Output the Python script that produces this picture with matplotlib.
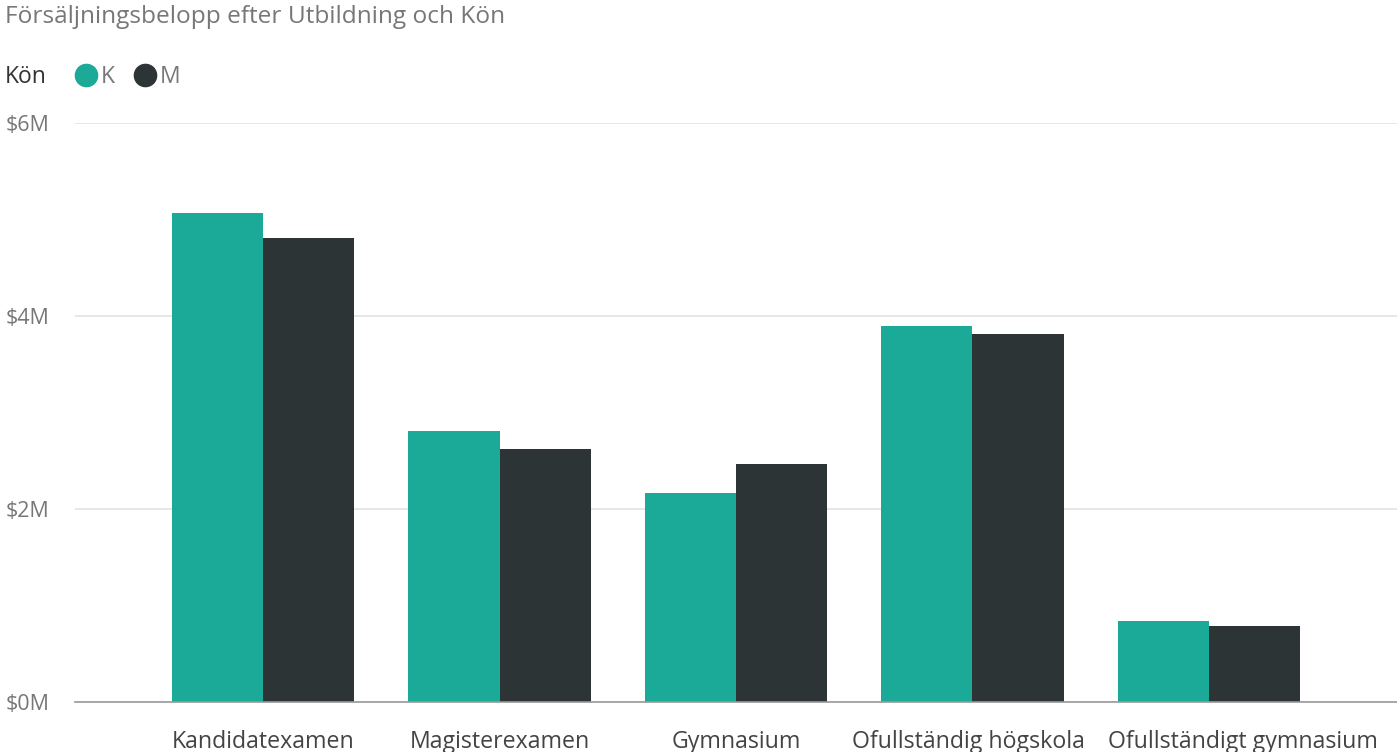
import numpy as np
import matplotlib
matplotlib.use('Agg')
import matplotlib.pyplot as plt
import matplotlib.transforms as mtransforms
from matplotlib.lines import Line2D

categories = ['Kandidatexamen', 'Magisterexamen', 'Gymnasium',
              'Ofullständig högskola', 'Ofullständigt gymnasium']
sales_k = [5.07, 2.81, 2.17, 3.90, 0.84]   # miljoner $
sales_m = [4.81, 2.62, 2.47, 3.81, 0.79]
y_ticks = [0, 2, 4, 6]
y_labels = ['$0M', '$2M', '$4M', '$6M']

teal = '#1BA998'
dark = '#2C3436'
grey_text = '#777777'

plt.rcParams['font.family'] = ['Open Sans', 'DejaVu Sans']

W, H = 1397, 752
fig = plt.figure(figsize=(W / 100, H / 100), dpi=100)
ax = fig.add_axes([75 / W, 1 - 702 / H, 1 - 75 / W, (702 - 123) / H])

x = np.arange(len(categories))
bw = 0.385
ax.bar(x - bw / 2, sales_k, bw, color=teal, zorder=3)
ax.bar(x + bw / 2, sales_m, bw, color=dark, zorder=3)

ax.set_xlim(-0.795, 4.795)
ax.set_ylim(0, 6)
ax.set_yticks(y_ticks)
ax.set_yticklabels(y_labels, ha='left', color=grey_text, fontsize=15.5)
ax.tick_params(axis='y', length=0, pad=50)
ax.set_xticks(x)
xlabels = ax.set_xticklabels(categories, color='#444444', fontsize=16.7)
ax.tick_params(axis='x', length=0, pad=20)

# sista etiketten är knuffad åt höger så den inte krockar med grannen
shift = mtransforms.ScaledTranslation(34 / 100, 0, fig.dpi_scale_trans)
xlabels[-1].set_transform(xlabels[-1].get_transform() + shift)
shift2 = mtransforms.ScaledTranslation(-4 / 100, 0, fig.dpi_scale_trans)
xlabels[-2].set_transform(xlabels[-2].get_transform() + shift2)

ax.grid(axis='y', color='#E3E3E3', linewidth=1.2, zorder=0)
for s in ['top', 'right', 'left']:
    ax.spines[s].set_visible(False)
ax.spines['bottom'].set_color('#999999')
ax.spines['bottom'].set_linewidth(1.2)
ax.spines['bottom'].set_zorder(4)

fig.text(5 / W, 1 - 17 / H, 'Försäljningsbelopp efter Utbildning och Kön',
         color=grey_text, fontsize=17.6, va='center', ha='left')

fig.text(5 / W, 1 - 77 / H, 'Kön', color='#333333', fontsize=16.5, va='center', ha='left')
handles = [Line2D([], [], marker='o', linestyle='', markersize=16, color=teal),
           Line2D([], [], marker='o', linestyle='', markersize=16, color=dark)]
fig.legend(handles, ['K', 'M'], loc='center left', bbox_to_anchor=(69 / W, 1 - 77 / H),
           ncol=2, frameon=False, fontsize=16.5, handletextpad=-0.1, columnspacing=0.55,
           handlelength=1.5, labelcolor=grey_text, borderaxespad=0, borderpad=0)

fig.savefig('out.png', dpi=100)
